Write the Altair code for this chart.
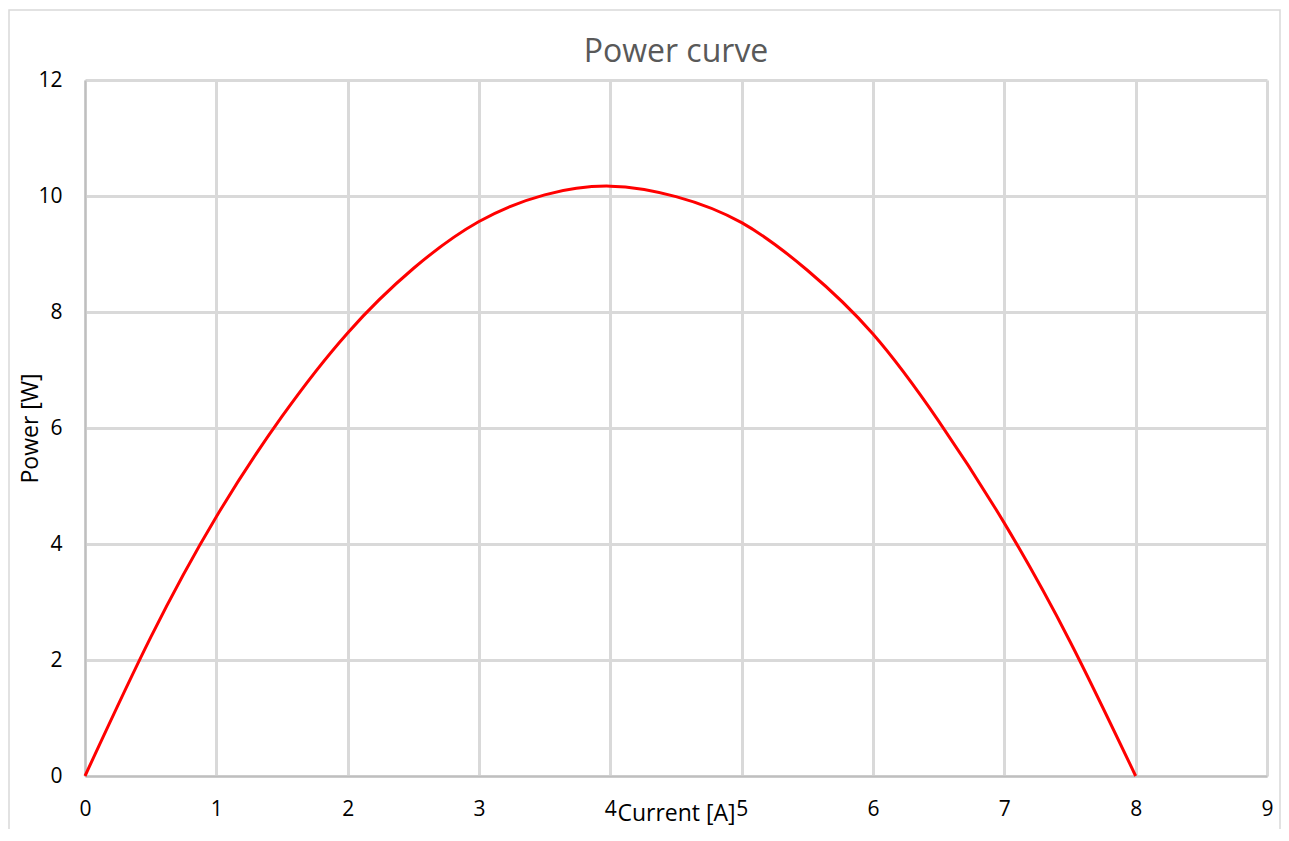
import altair as alt
import pandas as pd

current = [0, 0.5, 1, 1.5, 2, 2.5, 3, 3.5, 4, 4.5, 5, 5.5, 6, 6.5, 7, 7.5, 8]
power = [0, 2.39, 4.47, 6.2, 7.64, 8.75, 9.56, 10.02, 10.17, 9.99, 9.54, 8.72, 7.62, 6.12, 4.36, 2.32, 0]
x_ticks = [0, 1, 2, 3, 4, 5, 6, 7, 8, 9]
y_ticks = [0, 2, 4, 6, 8, 10, 12]
chart_title = "Power curve"

df = pd.DataFrame({"Current": current, "Power": power})
FONT = "Open Sans"

line = alt.Chart(df).mark_line(color="#ff0000", strokeWidth=3, interpolate="natural").encode(
    x=alt.X("Current:Q",
            scale=alt.Scale(domain=[0, 9], nice=False),
            axis=alt.Axis(values=x_ticks, title="Current [A]", labelPadding=39,
                          labelBaseline="alphabetic", titleY=44, titleBaseline="alphabetic")),
    y=alt.Y("Power:Q",
            scale=alt.Scale(domain=[0, 12], nice=False),
            axis=alt.Axis(values=y_ticks, title="Power [W]", labelPadding=23,
                          titleX=-48, titleBaseline="alphabetic")),
)

border = alt.Chart(alt.Data(values=[{"a": 1}])).mark_rect(
    fill="transparent", stroke="#d9d9d9", strokeWidth=1.5
).encode(
    x=alt.value(-76), x2=alt.value(1195), y=alt.value(-70), y2=alt.value(790)
)

title = alt.Chart(alt.Data(values=[{"t": chart_title}])).mark_text(
    font=FONT, fontSize=32, color="#595959", baseline="alphabetic", align="center"
).encode(
    text="t:N", x=alt.value(591), y=alt.value(-18)
)

chart = alt.layer(border, line, title).properties(
    width=1182,
    height=696,
    autosize=alt.AutoSizeParams(type="none"),
    padding={"left": 77, "top": 72, "right": 14, "bottom": 53},
).configure_view(stroke=None).configure_axis(
    gridColor="#d9d9d9", gridWidth=3, domainColor="#bfbfbf", domainWidth=2,
    ticks=False, tickSize=0, labelFont=FONT, labelFontSize=21, labelColor="#000000",
    titleFont=FONT, titleFontSize=23, titleFontWeight="normal", titleColor="#000000",
    labelFlush=False, labelOverlap=False,
)

chart.save("out.html", embed_options={"renderer": "svg", "actions": False})
